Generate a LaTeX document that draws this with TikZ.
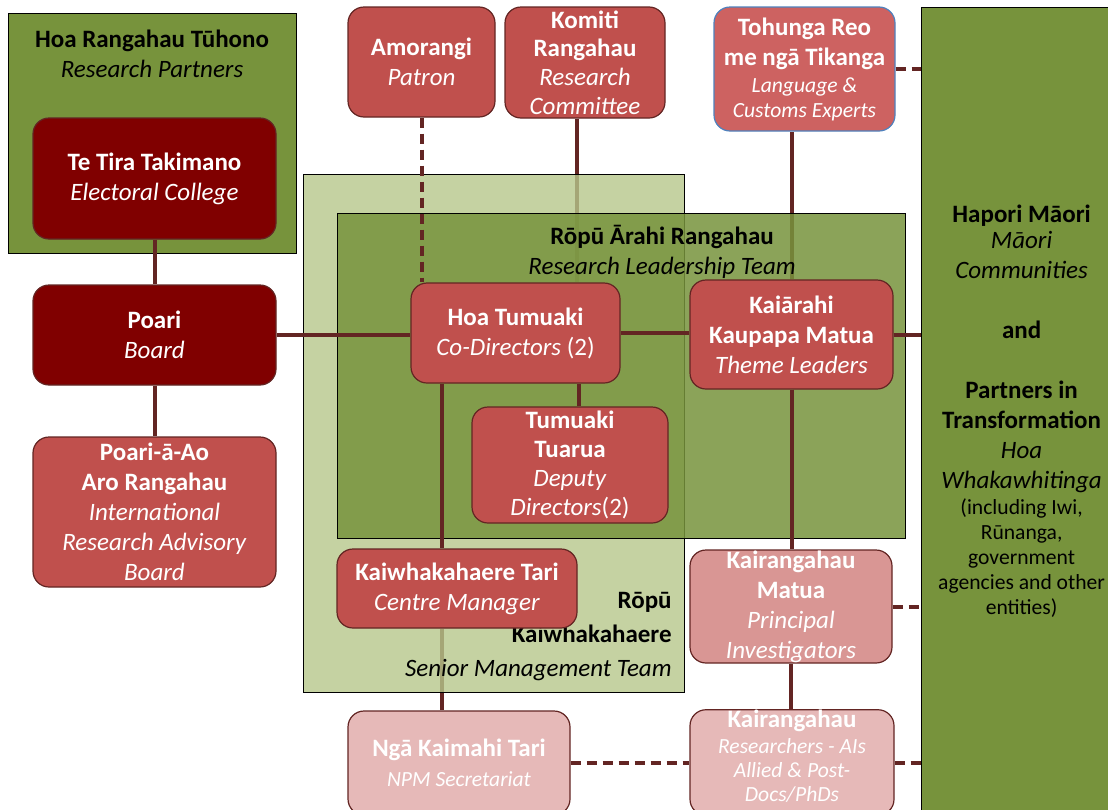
\documentclass[tikz,border=0pt]{standalone}
\usepackage{fontspec}
\setmainfont{Carlito}
\usetikzlibrary{calc}
\definecolor{npmgreen}{RGB}{119,147,60}
\definecolor{npmlightgreen}{RGB}{182,199,139}
\definecolor{npmdarkred}{RGB}{128,0,0}
\definecolor{npmred}{RGB}{192,80,77}
\definecolor{npmsoftred}{RGB}{205,98,97}
\definecolor{npmpink}{RGB}{217,150,148}
\definecolor{npmpalepink}{RGB}{230,185,184}
\definecolor{npmline}{RGB}{99,37,35}
\definecolor{npmblue}{RGB}{79,129,189}
\newcommand{\npmsmall}{\fontsize{10.8}{12.5}\selectfont}
\pgfdeclarelayer{lines}
\pgfdeclarelayer{groups}
\pgfsetlayers{lines,groups,main}
\tikzset{
    rolebox/.style={draw=npmline, line width=0.6pt, rounded corners=8pt, text=white,
        align=center, inner sep=0pt, font=\fontsize{12.5}{15}\selectfont},
    groupbox/.style={draw=black, line width=0.6pt, inner sep=0pt, anchor=north west},
    grouplabel/.style={align=center, inner sep=0pt, font=\fontsize{12.5}{15}\selectfont},
    link/.style={draw=npmline, line width=2pt},
    dashlink/.style={link, dash pattern=on 5pt off 3pt}
}

\begin{document}
\begin{tikzpicture}[x=0.5pt, y=-0.5pt]
    \clip (0,0) rectangle (1108,809);

    % groups
    \begin{pgfonlayer}{groups}
        \node[groupbox, fill=npmgreen, minimum width=144pt, minimum height=120pt] (partners) at (8,13) {};
        \node[groupbox, fill=npmlightgreen, fill opacity=0.8, minimum width=190.5pt, minimum height=259pt] (senior) at (303,174) {};
        \node[groupbox, fill=npmgreen, fill opacity=0.85, minimum width=284pt, minimum height=162.5pt] (leadership) at (337,213) {};
    \end{pgfonlayer}
    \node[grouplabel] (partnerstitle) at (152,54) {\textbf{Hoa Rangahau Tūhono}\\\textit{Research Partners}};
    \node[grouplabel] (leadershiptitle) at (662,252) {\textbf{Rōpū Ārahi Rangahau}\\\textit{Research Leadership Team}};
    \node[grouplabel, align=right, anchor=east] (seniortitle) at (672,637) {\textbf{Rōpū}\\[2pt]\textbf{Kaiwhakahaere}\\[2pt]\textit{Senior Management Team}};
    \node[groupbox, grouplabel, anchor=north west, fill=npmgreen, minimum width=100pt, minimum height=404pt] (hapori) at (921,7) {%
        \textbf{Hapori Māori}\\[-2pt]\textit{Māori}\\\textit{Communities}\\[15pt]\textbf{and}\\[15pt]%
        \textbf{Partners in}\\\textbf{Transformation}\\\textit{Hoa}\\\textit{Whakawhitinga}\\[-2pt]%
        \npmsmall(including Iwi,\\[-2.5pt]\npmsmall Rūnanga,\\[-2.5pt]\npmsmall government\\[-2.5pt]%
        \npmsmall agencies and other\\[-2.5pt]\npmsmall entities)};

    % roles
    \node[rolebox, fill=npmdarkred, minimum width=121.5pt, minimum height=60.5pt] (tetira) at (154.5,178.5) {\textbf{Te Tira Takimano}\\\textit{Electoral College}};
    \node[rolebox, fill=npmdarkred, minimum width=121.5pt, minimum height=50pt] (poari) at (154.5,335) {\textbf{Poari}\\\textit{Board}};
    \node[rolebox, fill=npmred, minimum width=121.5pt, minimum height=75pt] (poariao) at (154.5,512) {\textbf{Poari-ā-Ao}\\\textbf{Aro Rangahau}\\\textit{International}\\\textit{Research Advisory}\\\textit{Board}};
    \node[rolebox, fill=npmred, minimum width=73.5pt, minimum height=55pt] (amorangi) at (421.5,62) {\textbf{Amorangi}\\\textit{Patron}};
    \node[rolebox, fill=npmred, minimum width=80pt, minimum height=55.5pt] (komiti) at (585,62.5) {\textbf{Komiti}\\[-0.7pt]\textbf{Rangahau}\\[-0.7pt]\textit{Research}\\[-0.7pt]\textit{Committee}};
    \node[rolebox, fill=npmsoftred, draw=npmblue, minimum width=90.5pt, minimum height=62pt] (tohunga) at (804.5,69) {\textbf{Tohunga Reo}\\\textbf{me ngā Tikanga}\\[-1.5pt]\npmsmall\textit{Language \&}\\[-2.5pt]\npmsmall\textit{Customs Experts}};
    \node[rolebox, fill=npmred, minimum width=104.5pt, minimum height=50pt] (hoatumuaki) at (515.5,333) {\textbf{Hoa Tumuaki}\\\textit{Co-Directors} (2)};
    \node[rolebox, fill=npmred, minimum width=101.5pt, minimum height=54.5pt] (kaiarahi) at (791.5,334.5) {\textbf{Kaiārahi}\\\textbf{Kaupapa Matua}\\\textit{Theme Leaders}};
    \node[rolebox, fill=npmred, minimum width=98pt, minimum height=58pt] (tuarua) at (570,465) {\textbf{Tumuaki}\\[-0.5pt]\textbf{Tuarua}\\[-0.5pt]\textit{Deputy}\\[-0.5pt]\textit{Directors}(2)};
    \node[rolebox, fill=npmred, minimum width=120pt, minimum height=39.5pt] (manager) at (457,588.5) {\textbf{Kaiwhakahaere Tari}\\\textit{Centre Manager}};
    \node[rolebox, fill=npmpink, minimum width=101pt, minimum height=56.5pt] (matua) at (791,606.5) {\textbf{Kairangahau}\\\textbf{Matua}\\\textit{Principal}\\\textit{Investigators}};
    \node[rolebox, fill=npmpalepink, minimum width=111pt, minimum height=52pt] (kaimahi) at (459,763) {\textbf{Ngā Kaimahi Tari}\\\npmsmall\textit{NPM Secretariat}};
    \node[rolebox, fill=npmpalepink, minimum width=102pt, minimum height=52.5pt] (kairangahau) at (792,762.5) {\textbf{Kairangahau}\\[-2pt]\npmsmall\textit{Researchers - AIs}\\[-3pt]\npmsmall\textit{Allied \& Post-}\\[-3pt]\npmsmall\textit{Docs/PhDs}\\[-8pt]\mbox{}};
    \coordinate (spine) at ([xshift=16pt]hoatumuaki.south west);

    % links behind the groups
    \begin{pgfonlayer}{lines}
        \draw[link] ([xshift=-4pt]komiti.south) -- ([xshift=-4pt]komiti.south |- hoatumuaki.north);
        \draw[link] (kaiarahi.north) -- (kaiarahi.north |- tohunga.south);
        \draw[link] (manager.south -| spine) -- (kaimahi.north -| spine);
    \end{pgfonlayer}

    % links
    \draw[link] (tetira) -- (poari);
    \draw[link] (poari) -- (poariao);
    \draw[link] (poari.east) -- (poari.east -| hoatumuaki.west);
    \draw[link] (hoatumuaki.east) -- (hoatumuaki.east -| kaiarahi.west);
    \draw[link] (kaiarahi.east) -- (kaiarahi.east -| hapori.west);
    \draw[dashlink] (amorangi.south) -- (amorangi.south |- hoatumuaki.north);
    \draw[link] ([xshift=4.5pt]tuarua.north) -- ([xshift=4.5pt]tuarua.north |- hoatumuaki.south);
    \draw[link] (spine) -- (spine |- manager.north);
    \draw[link] (kaiarahi.south) -- (kaiarahi.south |- matua.north);
    \draw[link] (matua.south) -- (matua.south |- kairangahau.north);
    \draw[dashlink] (tohunga.east) -- (tohunga.east -| hapori.west);
    \draw[dashlink] (matua.east) -- (matua.east -| hapori.west);
    \draw[dashlink] (kairangahau.east) -- (kairangahau.east -| hapori.west);
    \draw[dashlink] (kaimahi.east) -- (kaimahi.east -| kairangahau.west);
\end{tikzpicture}
\end{document}
